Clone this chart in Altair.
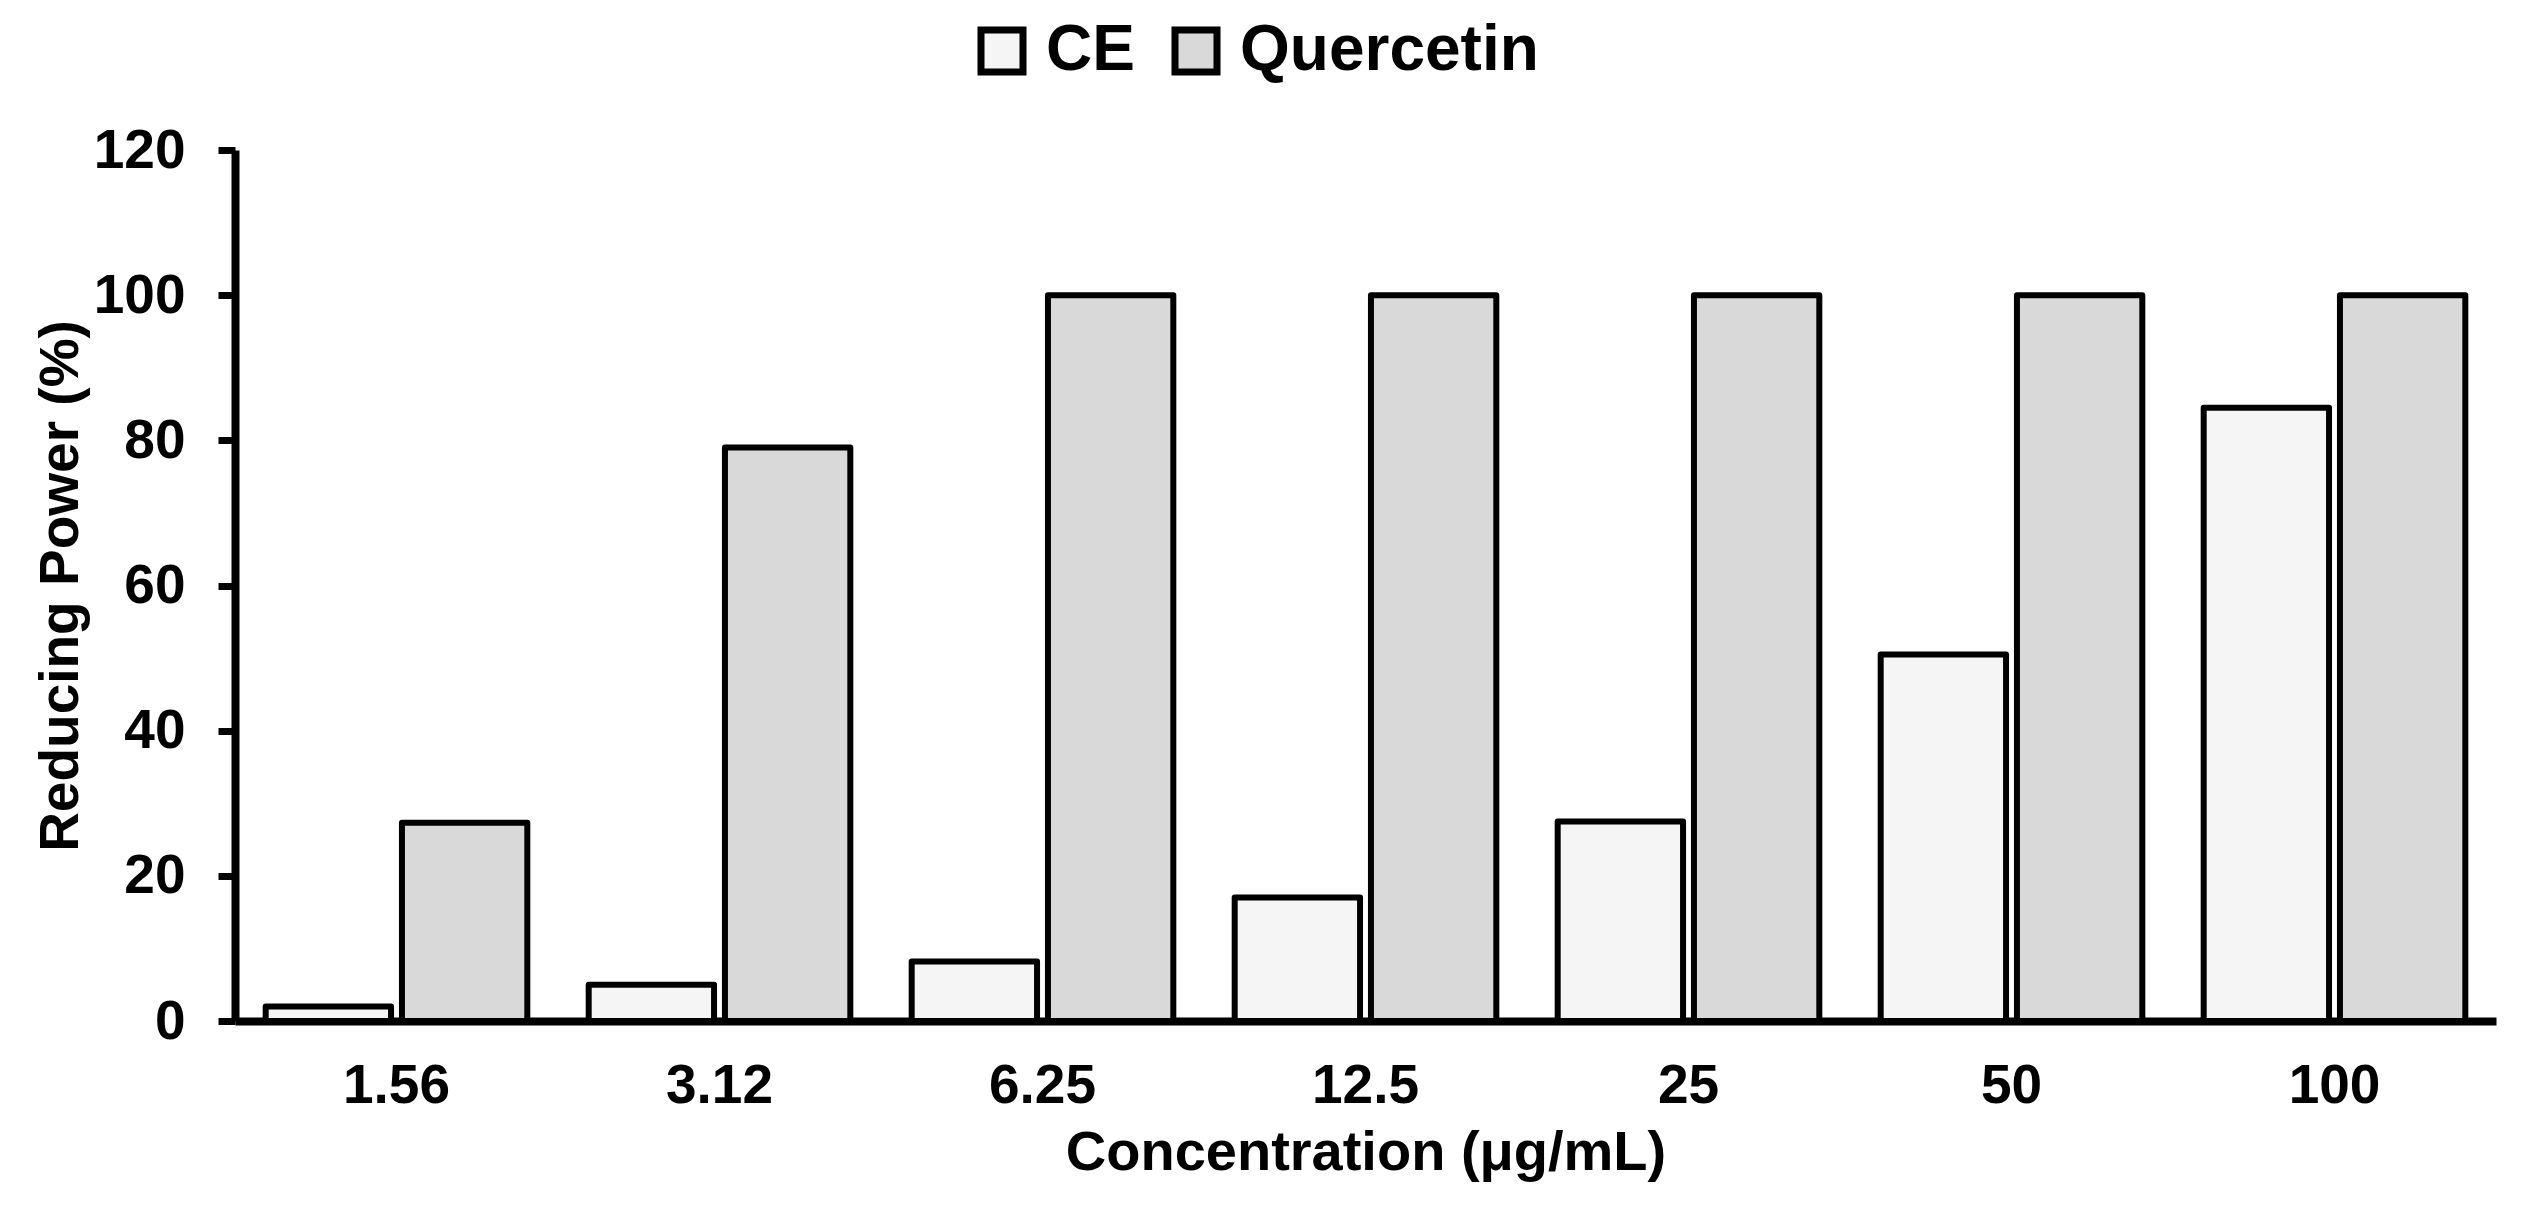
import altair as alt
import pandas as pd

concentrations = ["1.56", "3.12", "6.25", "12.5", "25", "50", "100"]
ce_values = [2.0, 5.0, 8.2, 17.0, 27.5, 50.5, 84.5]
quercetin_values = [27.3, 79.0, 100.0, 100.0, 100.0, 100.0, 100.0]
series = ["CE", "Quercetin"]
series_colors = ["#f5f5f5", "#d9d9d9"]
y_ticks = [0, 20, 40, 60, 80, 100, 120]

rows = []
for c, a, b in zip(concentrations, ce_values, quercetin_values):
    rows.append({"conc": c, "series": "CE", "value": a})
    rows.append({"conc": c, "series": "Quercetin", "value": b})
df = pd.DataFrame(rows)

font = "Liberation Sans, Arial, sans-serif"

chart = alt.Chart(df).mark_bar(stroke="black", strokeWidth=6, strokeJoin="round").encode(
    x=alt.X(
        "conc:N",
        sort=concentrations,
        scale=alt.Scale(paddingInner=0.19, paddingOuter=0.095),
        axis=alt.Axis(
            title="Concentration (μg/mL)",
            labelAngle=0,
            ticks=False,
            domainWidth=8,
            domainColor="black",
            labelFont=font,
            labelFontWeight="bold",
            labelFontSize=55,
            labelColor="black",
            labelPadding=38,
            titleFont=font,
            titleFontWeight="bold",
            titleFontSize=56,
            titleColor="black",
            titlePadding=12,
        ),
    ),
    xOffset=alt.XOffset("series:N", sort=series, scale=alt.Scale(paddingInner=0.08)),
    y=alt.Y(
        "value:Q",
        scale=alt.Scale(domain=[0, 120]),
        axis=alt.Axis(
            values=y_ticks,
            title="Reducing Power (%)",
            grid=False,
            tickSize=17,
            tickWidth=7,
            tickColor="black",
            domainWidth=8,
            domainColor="black",
            labelFont=font,
            labelFontWeight="bold",
            labelFontSize=55,
            labelColor="black",
            labelPadding=33,
            titleFont=font,
            titleFontWeight="bold",
            titleFontSize=55,
            titleColor="black",
            titlePadding=4,
        ),
    ),
    fill=alt.Fill(
        "series:N",
        sort=series,
        scale=alt.Scale(domain=series, range=series_colors),
        legend=alt.Legend(
            title=None,
            orient="none",
            legendX=735,
            legendY=-131,
            direction="horizontal",
            padding=0,
            symbolType="square",
            symbolSize=1764,
            symbolStrokeColor="black",
            symbolStrokeWidth=7,
            labelFont=font,
            labelFontWeight="bold",
            labelFontSize=64,
            labelColor="black",
            labelLimit=0,
            columnPadding=26,
            labelOffset=12,
        ),
    ),
).properties(
    width=2261,
    height=871,
    autosize=alt.AutoSizeParams(type="none"),
    padding={"left": 227, "top": 142, "right": 20, "bottom": 180},
).configure_view(stroke=None)

chart.save("out.html", embed_options={"renderer": "svg", "actions": False})
